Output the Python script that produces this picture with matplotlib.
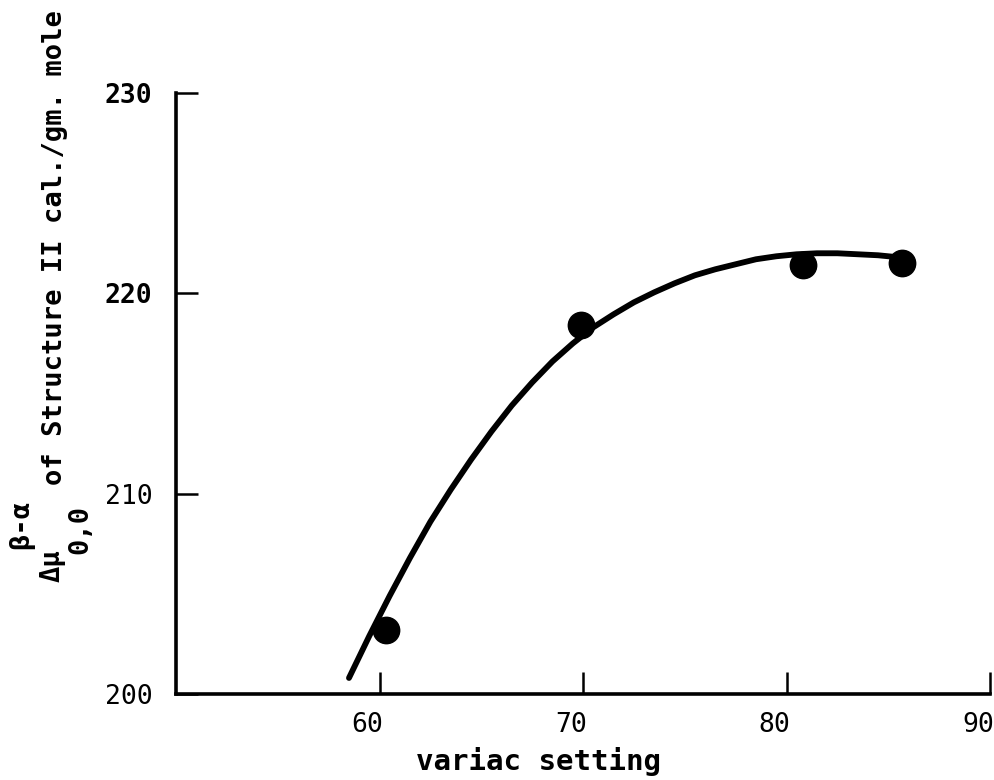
import matplotlib
matplotlib.use("Agg")
import matplotlib.pyplot as plt
import matplotlib.transforms as mtransforms

# measured points (variac setting, delta mu)
variac = [60.3, 69.9, 80.8, 85.7]
delta_mu = [203.2, 218.4, 221.4, 221.5]

# hand-drawn smooth curve
curve_x = [58.5, 59.5, 60.5, 61.5, 62.5, 63.5, 64.5, 65.5, 66.5, 67.5, 68.5, 69.5,
           70.5, 71.5, 72.5, 73.5, 74.5, 75.5, 76.5, 77.5, 78.5, 79.5, 80.5, 81.5,
           82.5, 83.5, 84.5, 85.5]
curve_y = [200.8, 202.9, 204.9, 206.8, 208.6, 210.2, 211.7, 213.1, 214.4, 215.55,
           216.6, 217.5, 218.3, 218.95, 219.55, 220.05, 220.5, 220.9, 221.2, 221.45,
           221.7, 221.85, 221.95, 222.0, 222.0, 221.95, 221.9, 221.8]

x_ticks = [60, 70, 80, 90]
y_ticks = [200, 210, 220, 230]
bold_y = [220, 230]

W, H = 994, 780
plt.rcParams['font.family'] = ['DejaVu Sans Mono']

fig = plt.figure(figsize=(W / 100, H / 100), dpi=100)
ax = fig.add_axes([176 / W, (H - 694) / H, 814 / W, 601 / H])

#Curve and points
ax.plot(curve_x, curve_y, color='black', linewidth=4.2, solid_capstyle='round',
        solid_joinstyle='round', clip_on=False)
ax.plot(variac, delta_mu, 'o', color='black', markersize=19, clip_on=False)

ax.set_xlim(50, 90)
ax.set_ylim(200, 230)

#Style
for s in ['top', 'right']:
    ax.spines[s].set_visible(False)
for s in ['left', 'bottom']:
    ax.spines[s].set_linewidth(2.6)

ax.set_xticks(x_ticks)
ax.set_yticks(y_ticks)
ax.tick_params(axis='both', direction='in', width=1.8, length=16, labelsize=19)
ax.tick_params(axis='x', pad=13)
ax.tick_params(axis='y', pad=17)

shift = mtransforms.ScaledTranslation(-12 / 100, 0, fig.dpi_scale_trans)
for lab in ax.get_xticklabels():
    lab.set_transform(lab.get_transform() + shift)
for lab, v in zip(ax.get_yticklabels(), y_ticks):
    if v in bold_y:
        lab.set_fontweight('bold')

ax.set_xlabel("variac setting", fontsize=21, fontweight='bold')
ax.xaxis.set_label_coords((539 - 176) / 814, (694 - 761) / 601)
ax.xaxis.label.set_va('center')

#Y label pieces
def ftext(px, py, s):
    fig.text(px / W, 1 - py / H, s, rotation=90, ha='center', va='center',
             fontsize=19.5, fontweight='bold')

ftext(55, 248, "of Structure II cal./gm. mole")
ftext(53, 566, "\u0394\u03bc")
ftext(21, 524, "\u03b2-\u03b1")
ftext(80, 529, "0,0")

fig.savefig("out.png", dpi=100)
